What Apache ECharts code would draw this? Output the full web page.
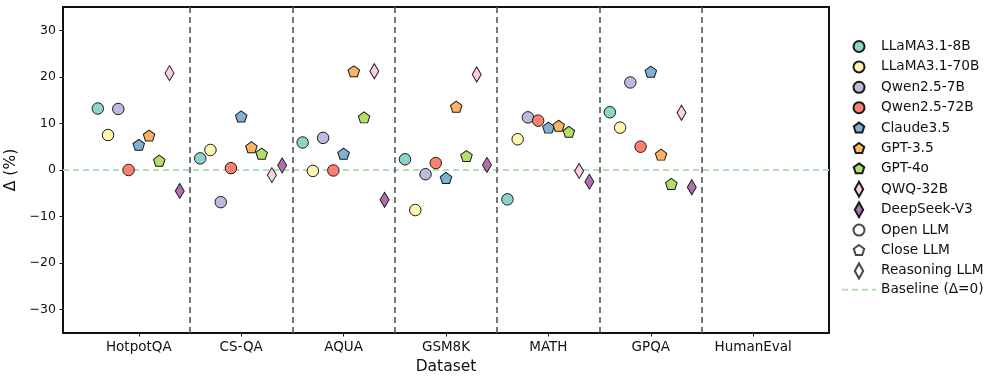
<!DOCTYPE html>
<html lang="en">
<head>
    <meta charset="UTF-8">
    <title>Delta by dataset</title>
    <script src="https://cdn.jsdelivr.net/npm/echarts@6/dist/echarts.min.js"></script>
    <style>
        html, body { margin: 0; padding: 0; background: #fff; }
        #main { width: 996px; height: 380px; }
    </style>
</head>
<body>
<div id="main"></div>
<script type="text/javascript">
    // categories and tick labels
    var datasets = ['HotpotQA', 'CS-QA', 'AQUA', 'GSM8K', 'MATH', 'GPQA', 'HumanEval'];
    var yTicks = [-30, -20, -10, 0, 10, 20, 30];
    var dividers = [0.5, 1.5, 2.5, 3.5, 4.5, 5.5];

    var models = ['LLaMA3.1-8B', 'LLaMA3.1-70B', 'Qwen2.5-7B', 'Qwen2.5-72B',
        'Claude3.5', 'GPT-3.5', 'GPT-4o', 'QWQ-32B', 'DeepSeek-V3'];
    var modelKind = ['open', 'open', 'open', 'open', 'close', 'close', 'close', 'reason', 'reason'];
    var colors = ['#8dd3c7', '#fff6b0', '#bebada', '#fb8072', '#80b1d3', '#fdb462', '#b3de69', '#fccde5', '#b16fae'];

    // delta (%) per model, in dataset order (no HumanEval values)
    var llama8b  = [13.2, 2.5, 5.9, 2.3, -6.3, 12.4];
    var llama70b = [7.5, 4.3, -0.2, -8.6, 6.6, 9.1];
    var qwen7b   = [13.1, -6.9, 6.9, -0.9, 11.3, 18.8];
    var qwen72b  = [0.0, 0.4, -0.1, 1.5, 10.6, 5.0];
    var claude   = [5.4, 11.5, 3.5, -1.7, 9.1, 21.1];
    var gpt35    = [7.4, 4.9, 21.2, 13.6, 9.5, 3.3];
    var gpt4o    = [2.0, 3.5, 11.3, 3.0, 8.2, -3.0];
    var qwq32b   = [20.8, -1.1, 21.2, 20.5, -0.2, 12.3];
    var deepseek = [-4.5, 1.0, -6.4, 1.1, -2.5, -3.7];
    var values = [llama8b, llama70b, qwen7b, qwen72b, claude, gpt35, gpt4o, qwq32b, deepseek];

    var pentagon = 'path://M0,-1L0.951,-0.309L0.588,0.809L-0.588,0.809L-0.951,-0.309Z';
    var symbolOf = { open: 'circle', close: pentagon, reason: 'diamond' };
    var sizeOf = { open: 11.5, close: [11.5, 11], reason: [9, 15] };

    // legend icons: padded boxes so all shapes share one 15px icon height
    var pad = 'M-7.5,-7.5L-7.5,-7.5M7.5,7.5L7.5,7.5';
    var iconOf = {
        open: 'path://' + pad + 'M-5.5,0A5.5,5.5,0,1,0,5.5,0A5.5,5.5,0,1,0,-5.5,0Z',
        close: 'path://' + pad + 'M0,-5.5L5.23,-1.7L3.23,4.45L-3.23,4.45L-5.23,-1.7Z',
        reason: 'path://M0,-7.5L4.2,0L0,7.5L-4.2,0Z'
    };

    var xMin = -0.74, xMax = 6.74;
    var baseColor = '#b2dfae';

    var series = [];
    var legendData = [];

    for (var j = 0; j < models.length; j++) {
        var kind = modelKind[j];
        var pts = [];
        for (var i = 0; i < values[j].length; i++) {
            pts.push([i + (j - 4) * 0.1, values[j][i]]);
        }
        series.push({
            name: models[j],
            type: 'scatter',
            z: 5,
            symbol: symbolOf[kind],
            symbolSize: sizeOf[kind],
            itemStyle: { color: colors[j], borderColor: '#1a1a1a', borderWidth: 1, opacity: 1 },
            data: pts
        });
        legendData.push({ name: models[j], icon: iconOf[kind] });
    }

    // proxy entries for marker shapes
    var kinds = [['Open LLM', 'open'], ['Close LLM', 'close'], ['Reasoning LLM', 'reason']];
    for (var k = 0; k < kinds.length; k++) {
        series.push({
            name: kinds[k][0],
            type: 'scatter',
            symbol: symbolOf[kinds[k][1]],
            itemStyle: { color: '#fff', borderColor: '#1a1a1a', borderWidth: 1 },
            data: []
        });
        legendData.push({ name: kinds[k][0], icon: iconOf[kinds[k][1]] });
    }

    // baseline + dataset dividers
    series.push({
        name: 'Baseline (\u0394=0)',
        type: 'line',
        z: 2,
        symbol: 'none',
        showSymbol: false,
        silent: true,
        itemStyle: { color: baseColor },
        lineStyle: { color: baseColor, width: 2, type: [6, 4] },
        data: [[xMin, 0], [xMax, 0]],
        markLine: {
            silent: true,
            symbol: 'none',
            label: { show: false },
            lineStyle: { color: '#555', width: 1.6, type: [6, 4] },
            data: dividers.map(function (d) { return { xAxis: d }; })
        }
    });
    legendData.push({
        name: 'Baseline (\u0394=0)',
        itemStyle: { color: 'rgba(0,0,0,0)', borderWidth: 0, opacity: 0 }
    });

    var chart = echarts.init(document.getElementById('main'));

    chart.setOption({
        animation: false,
        textStyle: { fontFamily: 'DejaVu Sans' },
        grid: {
            left: 63, right: 167, top: 7, bottom: 47,
            outerBoundsMode: 'none',
            containLabel: false,
            show: true, borderColor: '#111', borderWidth: 2, backgroundColor: 'transparent'
        },
        legend: {
            orient: 'vertical',
            left: 836,
            top: 33,
            itemWidth: 34,
            itemHeight: 15,
            itemGap: 3.4,
            textStyle: { fontFamily: 'DejaVu Sans', fontSize: 13.7, color: '#111' },
            data: legendData
        },
        xAxis: {
            type: 'value',
            min: xMin,
            max: xMax,
            name: 'Dataset',
            nameLocation: 'middle',
            nameGap: 25,
            nameTextStyle: { fontSize: 15.5, color: '#111' },
            axisLine: { show: false, onZero: false },
            splitLine: { show: false },
            axisTick: { show: true, length: 3.5, lineStyle: { color: '#111' },
                customValues: [0, 1, 2, 3, 4, 5, 6] },
            axisLabel: {
                fontSize: 13.5, color: '#111', margin: 7,
                customValues: [0, 1, 2, 3, 4, 5, 6],
                formatter: function (v) { return datasets[Math.round(v)]; }
            }
        },
        yAxis: {
            type: 'value',
            min: -35,
            max: 35,
            name: '\u0394 (%)',
            nameLocation: 'middle',
            nameGap: 31,
            nameTextStyle: { fontSize: 15.5, color: '#111' },
            axisLine: { show: false, onZero: false },
            splitLine: { show: false },
            axisTick: { show: true, length: 3.5, lineStyle: { color: '#111' }, customValues: yTicks },
            axisLabel: {
                fontSize: 12.5, color: '#111', margin: 7,
                customValues: yTicks,
                formatter: function (v) { return v < 0 ? '\u2212' + (-v) : String(v); }
            }
        },
        series: series
    });
</script>
</body>
</html>
